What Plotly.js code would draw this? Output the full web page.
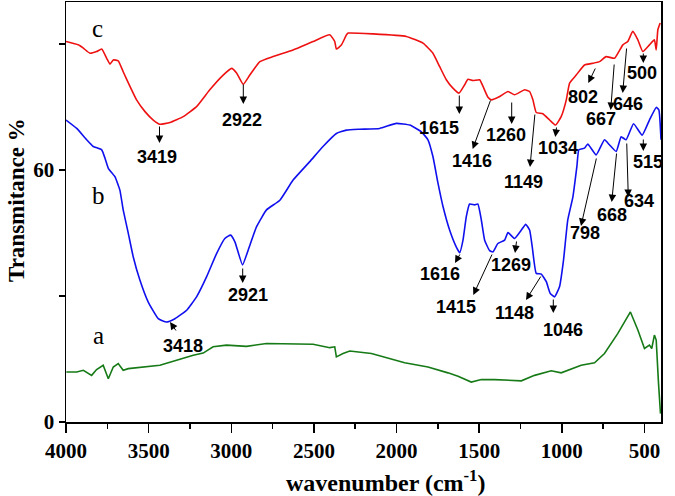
<!DOCTYPE html>
<html>
<head>
<meta charset="utf-8">
<script src="https://cdn.plot.ly/plotly-3.0.1.min.js"></script>
<style>
  html, body { margin: 0; padding: 0; background: #fff; }
  #chart { width: 675px; height: 496px; }
</style>
</head>
<body>
<div id="chart"></div>
<script>
// curve c (red)
let wnC = [4000, 3926, 3895, 3855, 3815, 3784, 3754, 3734, 3714, 3684, 3654, 3613, 3573, 3522, 3472, 3432, 3371, 3291, 3210, 3130,
	3049, 2998, 2968, 2928, 2888, 2827, 2747, 2626, 2505, 2404, 2374, 2364, 2333, 2303, 2293, 2142, 1941, 1840, 1780, 1739,
	1699, 1659, 1622, 1588, 1568, 1538, 1497, 1477, 1447, 1427, 1376, 1326, 1286, 1225, 1195, 1175, 1155, 1115, 1074, 1038,
	1004, 973, 953, 913, 863, 812, 772, 732, 681, 631, 601, 571, 540, 510, 470, 440, 429, 419, 405];
let trC = [90.6, 89.8, 89.0, 87.8, 88.2, 88.8, 86.6, 85.2, 86.2, 86.0, 83.4, 79.9, 76.7, 73.9, 71.9, 70.9, 71.3, 72.7, 75.1, 79.1,
	82.6, 84.2, 83.1, 80.4, 82.6, 85.8, 87.0, 88.6, 90.6, 92.2, 90.6, 88.8, 89.8, 92.2, 92.6, 92.4, 91.8, 90.2, 87.8, 84.6,
	81.5, 79.5, 78.3, 80.3, 81.6, 81.3, 81.5, 79.9, 77.3, 76.7, 77.5, 78.7, 77.9, 79.1, 78.7, 76.7, 73.7, 73.4, 71.9, 70.7,
	72.7, 76.7, 80.7, 82.6, 85.0, 85.4, 85.8, 87.0, 86.6, 89.8, 90.6, 93.0, 91.0, 88.2, 89.8, 91.0, 88.6, 93.4, 95.0];

// curve b (blue)
let wnB = [4000, 3935, 3875, 3835, 3784, 3764, 3744, 3704, 3674, 3654, 3623, 3593, 3553, 3503, 3442, 3392, 3341, 3270, 3210, 3149,
	3089, 3039, 3004, 2978, 2932, 2898, 2847, 2787, 2706, 2626, 2525, 2445, 2364, 2303, 2223, 2102, 2001, 1920, 1850, 1810,
	1780, 1749, 1719, 1679, 1639, 1618, 1598, 1578, 1558, 1528, 1508, 1487, 1467, 1437, 1417, 1387, 1346, 1326, 1286, 1245,
	1219, 1195, 1179, 1155, 1124, 1094, 1070, 1044, 1014, 990, 964, 933, 909, 897, 863, 843, 792, 742, 712, 671,
	641, 611, 566, 514, 470, 429, 413, 400];
let trB = [71.9, 69.9, 67.2, 65.6, 64.8, 62.8, 60.4, 58.4, 55.2, 50.5, 44.9, 39.3, 33.8, 28.6, 24.6, 23.8, 24.6, 26.6, 29.8, 34.6,
	40.1, 43.7, 44.5, 42.9, 37.4, 40.9, 46.5, 50.5, 52.8, 57.6, 62.0, 65.6, 68.7, 69.5, 69.7, 69.9, 71.1, 70.7, 69.1, 67.2,
	63.2, 56.8, 51.3, 45.7, 41.7, 40.3, 43.3, 48.9, 51.9, 51.7, 51.9, 48.1, 43.3, 40.8, 40.5, 42.5, 43.3, 45.1, 43.7, 45.7,
	47.1, 45.7, 41.7, 35.4, 35.2, 33.4, 30.6, 29.8, 32.2, 38.5, 48.1, 53.6, 60.8, 64.8, 65.2, 66.2, 63.6, 67.2, 66.0, 64.4,
	67.9, 67.2, 71.0, 68.3, 71.9, 74.9, 74.3, 67.2];

// curve a (green)
let wnA = [3998, 3935, 3895, 3845, 3815, 3775, 3744, 3714, 3684, 3654, 3623, 3533, 3432, 3331, 3230, 3170, 3110, 3029, 2908, 2787,
	2626, 2505, 2404, 2374, 2364, 2324, 2283, 2223, 2152, 1951, 1810, 1689, 1628, 1548, 1487, 1407, 1245, 1165, 1064, 1004,
	883, 802, 742, 661, 585, 540, 500, 470, 456, 440, 429, 415, 403];
let trA = [11.9, 11.9, 12.3, 11.1, 12.5, 13.5, 10.3, 13.1, 13.9, 12.3, 12.7, 13.1, 13.5, 14.7, 15.9, 16.4, 17.9, 18.3, 18.0, 18.7,
	18.5, 18.5, 17.7, 17.9, 15.5, 16.3, 16.9, 16.7, 16.3, 14.1, 13.1, 11.7, 10.9, 9.5, 10.1, 10.1, 9.8, 11.1, 12.2, 11.7,
	13.5, 14.1, 16.3, 21.1, 26.2, 21.9, 17.5, 18.3, 17.5, 20.7, 19.5, 9.2, 2.0];

// peak labels
let peakLabels = ['3419', '2922', '1615', '1416', '1260', '1149', '1034', '802', '667', '646', '500',
	'3418', '2921', '1616', '1415', '1269', '1148', '1046', '798', '668', '634', '515'];

// label centres and arrows (tail -> tip), in page pixels
let labelPos = [[157, 157], [242, 120], [439, 128], [472, 161], [506, 135], [523, 182], [558, 148], [583, 97], [601, 119], [628, 104], [642, 73],
	[183, 346], [248, 295], [440, 274], [456, 307], [511, 265], [514, 313], [563, 330], [585, 233], [612, 215], [639, 201], [648, 162]];
let arrows = [[159.5, 125, 159.5, 143], [243.3, 83, 243.3, 104], [459.3, 94, 459.3, 114], [491, 99, 472.7, 149], [511.7, 101, 511.7, 124],
	[535, 113, 530, 167], [556.7, 126, 555.3, 137], [596, 67, 588.3, 83], [614.3, 63, 610.7, 110], [626.7, 47, 622.7, 93], [643.3, 52, 643.3, 63],
	[177, 332, 170, 322], [242.7, 267, 242.7, 283], [460.7, 253, 455, 263], [492.7, 253, 473.3, 295], [516.7, 240, 515, 253],
	[541.7, 275, 526, 300], [553.3, 298, 553.3, 313], [596.7, 157, 581, 226], [616.7, 152, 611.7, 202], [626.7, 142, 628.3, 197],
	[643.3, 138, 643.3, 151]];

let M = {l: 66, r: 14, t: 2, b: 74};
let W = 675 - M.l - M.r;
let H = 496 - M.t - M.b;
let xRange = [4000, 400];
let yRange = [0, 100];

function px2x(px) {
	return xRange[0] + (px - M.l) * (xRange[1] - xRange[0]) / W;
}
function py2y(py) {
	return yRange[0] + (M.t + H - py) * (yRange[1] - yRange[0]) / H;
}

function createChart() {
	let lineW = 1.6;
	let traces = [
		{x: wnA, y: trA, mode: 'lines', type: 'scatter', line: {color: '#167a16', width: lineW}, name: 'a'},
		{x: wnB, y: trB, mode: 'lines', type: 'scatter', line: {color: '#1010ee', width: lineW, shape: 'spline', smoothing: 0.4}, name: 'b'},
		{x: wnC, y: trC, mode: 'lines', type: 'scatter', line: {color: '#ee1111', width: lineW, shape: 'spline', smoothing: 0.4}, name: 'c'}
	];

	let annotations = [];
	for (let i = 0; i < arrows.length; i++) {
		let a = arrows[i];
		annotations.push({
			x: px2x(a[2]), y: py2y(a[3]), xref: 'x', yref: 'y',
			ax: a[0] - a[2], ay: a[1] - a[3],
			text: '', showarrow: true,
			arrowhead: 2, arrowsize: 1.5, arrowwidth: 1, arrowcolor: '#000', standoff: 0
		});
	}
	for (let i = 0; i < peakLabels.length; i++) {
		annotations.push({
			x: px2x(labelPos[i][0]), y: py2y(labelPos[i][1]), xref: 'x', yref: 'y',
			text: peakLabels[i], showarrow: false,
			font: {family: 'Liberation Sans, Arial', size: 18, weight: 'bold', color: '#000'}
		});
	}
	let serif = 'Liberation Serif, Times New Roman, serif';
	let letters = [['c', 97, 28], ['b', 98, 195], ['a', 98, 335]];
	letters.forEach(function(l) {
		annotations.push({
			x: px2x(l[1]), y: py2y(l[2]), xref: 'x', yref: 'y',
			text: l[0], showarrow: false,
			font: {family: serif, size: 25, color: '#000'}
		});
	});
	// axis titles
	annotations.push({
		xref: 'paper', yref: 'paper', x: (386 - M.l) / W, y: (M.t + H - 481) / H,
		xanchor: 'center', yanchor: 'middle',
		text: 'wavenumber (cm<sup>-1</sup>)', showarrow: false,
		font: {family: serif, size: 24, weight: 'bold', color: '#000'}
	});
	annotations.push({
		xref: 'paper', yref: 'paper', x: (16 - M.l) / W, y: (M.t + H - 200) / H,
		xanchor: 'center', yanchor: 'middle',
		text: 'Transmitance %', showarrow: false, textangle: -90,
		font: {family: serif, size: 23, weight: 'bold', color: '#000'}
	});

	let layout = {
		width: 675,
		height: 496,
		margin: M,
		paper_bgcolor: '#fff',
		plot_bgcolor: '#fff',
		showlegend: false,
		xaxis: {
			range: xRange,
			showgrid: false, zeroline: false,
			showline: true, linecolor: '#000', linewidth: 1.5, mirror: true,
			ticks: 'outside', ticklen: 9, tickwidth: 1.5, tickcolor: '#000',
			tick0: 0, dtick: 500,
			minor: {dtick: 250, ticks: 'outside', ticklen: 5, tickwidth: 1.5, tickcolor: '#000'},
			tickfont: {family: serif, size: 21, weight: 'bold', color: '#000'}
		},
		yaxis: {
			range: yRange,
			showgrid: false, zeroline: false,
			showline: true, linecolor: '#000', linewidth: 1.5, mirror: true,
			ticks: 'outside', ticklen: 6, tickwidth: 1.5, tickcolor: '#000',
			tickvals: [0, 30, 60, 90], ticktext: ['0', '', '60', ''],
			tickfont: {family: serif, size: 21, weight: 'bold', color: '#000'}
		},
		annotations: annotations
	};

	Plotly.newPlot('chart', traces, layout, {staticPlot: true});
}

createChart();
</script>
</body>
</html>
